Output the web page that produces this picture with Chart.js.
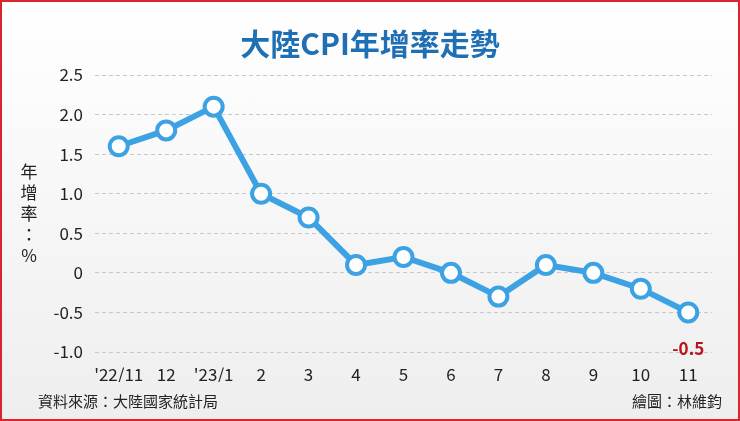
<!DOCTYPE html><html><head><meta charset="utf-8">
<script src="https://cdn.jsdelivr.net/npm/chart.js@4"></script>
<style>html,body{margin:0;padding:0;}body{width:740px;height:421px;overflow:hidden;}
#w{position:relative;width:736px;height:417px;border:2px solid #d9262c;background:linear-gradient(#ffffff,#eeeeee);}
canvas{position:absolute;left:-2px;top:-2px;}</style></head><body><div id="w"><canvas id="c" width="740" height="421"></canvas></div>
<script>
const categories=["'22/11","12","'23/1","2","3","4","5","6","7","8","9","10","11"];
const values=[1.6,1.8,2.1,1.0,0.7,0.1,0.2,0.0,-0.3,0.1,0.0,-0.2,-0.5];
const yTicks=["2.5","2.0","1.5","1.0","0.5","0","-0.5","-1.0"];
const F='"Noto Sans CJK TC","Noto Sans",sans-serif';
const deco={id:'deco',afterDraw(ch){const c=ch.ctx;c.save();
c.fillStyle='#1f6fb5';c.font='bold 30px '+F;c.textAlign='center';c.textBaseline='middle';c.fillText('大陸CPI年增率走勢',370,44);
c.fillStyle='#222';c.font='17px '+F;['年','增','率','：','%'].forEach((t,i)=>c.fillText(t,29,172+i*21));
c.font='15px '+F;c.textAlign='left';c.fillText('資料來源：大陸國家統計局',38,401);c.textAlign='right';c.fillText('繪圖：林維鈞',722,401);
const x=ch.scales.x.getPixelForValue(12),y=ch.scales.y.getPixelForValue(-0.5);
c.fillStyle='#b5151b';c.font='bold 17px '+F;c.textAlign='center';c.fillText('-0.5',x,y+36);c.restore();}};
new Chart(document.getElementById('c'),{type:'line',data:{labels:categories,datasets:[{data:values,borderColor:'#3da2e3',borderWidth:6,pointRadius:9,pointBorderWidth:4,pointBackgroundColor:'#fff',pointBorderColor:'#3da2e3',tension:0}]},
options:{responsive:false,animation:false,layout:{padding:{left:0,right:28,top:75,bottom:39}},plugins:{legend:{display:false},tooltip:{enabled:false}},
scales:{x:{offset:true,grid:{display:false},border:{display:false},ticks:{color:'#222',font:{size:17,family:F},padding:4,maxRotation:0,minRotation:0,autoSkip:false},afterFit(s){s.height=30;}},
y:{min:-1,max:2.5,afterFit(s){s.width=95;},grid:{color:'#c8c8c8',lineWidth:1,drawTicks:false},border:{display:false,dash:[4,3]},
ticks:{stepSize:0.5,color:'#222',padding:12,font:{size:17,family:F},callback:(v)=>{const i=Math.round((2.5-v)/0.5);return yTicks[i];}}}}},plugins:[deco]});
</script></body></html>
